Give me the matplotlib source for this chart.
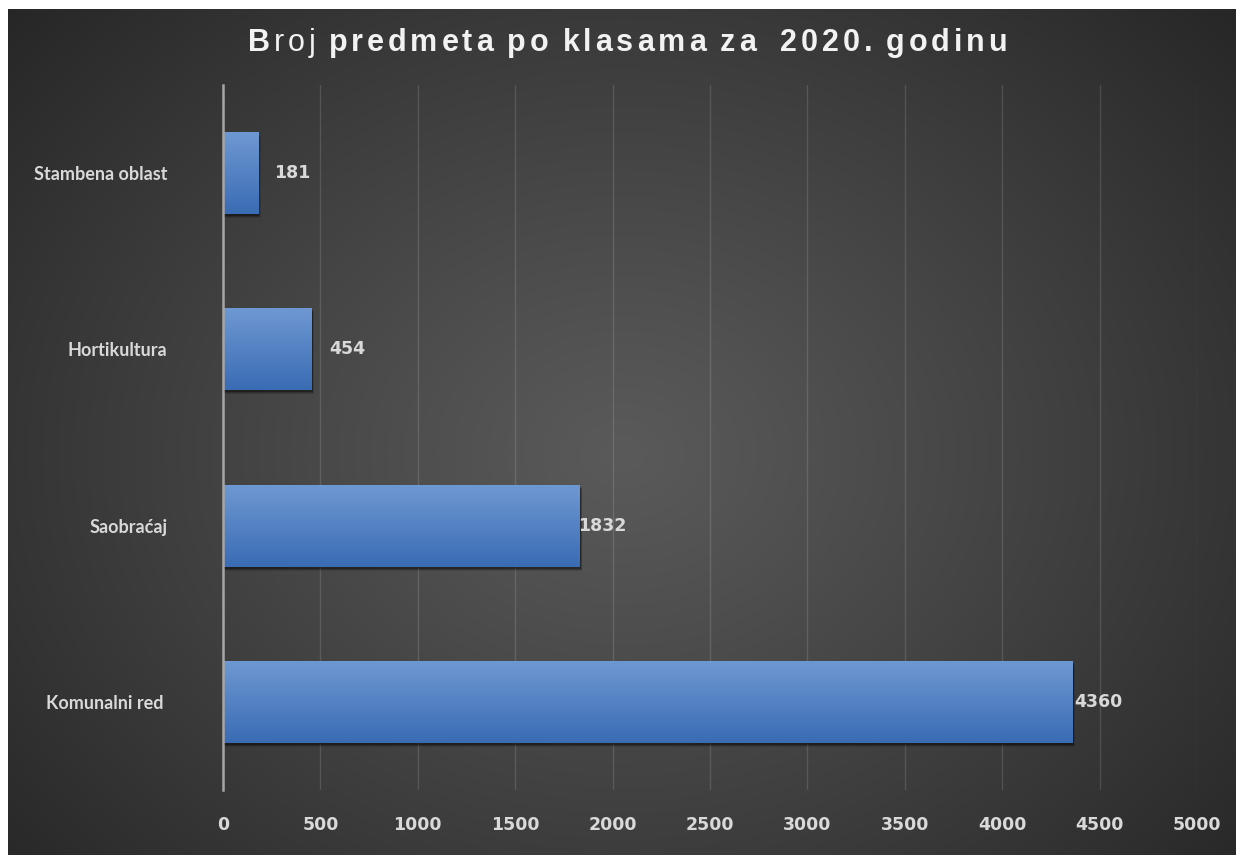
import numpy as np
import matplotlib
matplotlib.use("Agg")
import matplotlib.pyplot as plt
from matplotlib.patches import Rectangle

# data
categories = ["Stambena oblast", "Hortikultura", "Saobraćaj", "Komunalni red "]
values = [181, 454, 1832, 4360]
xticks = [0, 500, 1000, 1500, 2000, 2500, 3000, 3500, 4000, 4500, 5000]
title_parts = [("B", "bold"), ("roj ", "normal"), ("predmeta po klasama za  2020. godinu", "bold")]

label_pad = [16, 18, -2, 2]  # px from bar end, as placed in the original

W, H = 1236, 855
fig = plt.figure(figsize=(W / 100, H / 100), dpi=100, facecolor="white")

# dark radial background, white strip on top/left
bg = fig.add_axes([8 / W, 0, 1 - 8 / W, 1 - 9 / H])
bg.set_axis_off()
yy, xx = np.mgrid[0:400, 0:600]
r = np.sqrt(((xx - 300) / 420.0) ** 2 + ((yy - 210) / 330.0) ** 2)
r = np.clip(r, 0, 1)
c0 = np.array([0x5a, 0x5a, 0x5a]) / 255.0
c1 = np.array([0x24, 0x24, 0x24]) / 255.0
img = c0[None, None, :] * (1 - r[..., None] ** 1.1) + c1[None, None, :] * r[..., None] ** 1.1
bg.imshow(img, aspect="auto", extent=(0, 1, 0, 1), interpolation="bilinear")
bg.set_xlim(0, 1)
bg.set_ylim(0, 1)

ax = fig.add_axes([223 / W, 1 - 790 / H, (1197 - 223) / W, (790 - 85) / H])
ax.set_facecolor("none")
ax.set_xlim(0, 5000)
ax.set_ylim(3.5, -0.5)

bar_h = 0.465
top_col = np.array([110, 152, 210]) / 255.0
bot_col = np.array([58, 108, 180]) / 255.0
grad = np.linspace(0, 1, 64)[:, None, None]
grad_img = top_col[None, None, :] * (1 - grad) + bot_col[None, None, :] * grad

px = 5000 / (1197 - 223)           # data units per pixel in x
py = 4.0 / (790 - 85)              # data units per pixel in y

for i, v in enumerate(values):
    # soft shadow
    for k, a in [(4, 0.12), (3, 0.2), (2, 0.3)]:
        ax.add_patch(Rectangle((0, i - bar_h / 2 + k * py), v + k * px * 0.6, bar_h,
                               facecolor="black", alpha=a, linewidth=0, zorder=2))
    rect = Rectangle((0, i - bar_h / 2), v, bar_h, facecolor="none", linewidth=0, zorder=3)
    ax.add_patch(rect)
    im = ax.imshow(grad_img, extent=(0, v, i + bar_h / 2, i - bar_h / 2),
                   origin="upper", aspect="auto", zorder=3, interpolation="bilinear")
    im.set_clip_path(rect)
    ax.annotate(str(v), xy=(v, i), xytext=(label_pad[i] * 0.72, 0), textcoords="offset points",
                ha="left", va="center", fontsize=12.5, fontweight="bold", family="DejaVu Sans",
                color="#d9d9d9", zorder=5)

ax.set_xlim(0, 5000)
ax.set_ylim(3.5, -0.5)
ax.set_xticks(xticks)
ax.set_xticklabels([str(t) for t in xticks], fontsize=12.5, fontweight="bold",
                   family="DejaVu Sans", color="#d9d9d9")
ax.set_yticks(range(len(categories)))
ax.set_yticklabels(categories, fontsize=13, fontweight="bold", family="Lato", color="#d9d9d9")
ax.grid(axis="x", color="white", alpha=0.13, linewidth=1)
ax.set_axisbelow(True)
for s in ["top", "right", "bottom"]:
    ax.spines[s].set_visible(False)
ax.spines["left"].set_color("#a6a6a6")
ax.spines["left"].set_linewidth(1.8)
ax.spines["left"].set_zorder(6)
ax.tick_params(axis="x", length=0, pad=19)
ax.tick_params(axis="y", length=0, pad=40)

# title with letter spacing, drawn char by char
fig.canvas.draw()
ren = fig.canvas.get_renderer()
chars = [(c, w) for part, w in title_parts for c in part]
x0, x1, ybase = 248, 1007, H - 51
fs = 22
widths = []
for c, w in chars:
    t = fig.text(0, 0, c if c != " " else "n", fontsize=fs, fontweight=w, family="Liberation Sans")
    bb = t.get_window_extent(ren)
    widths.append(bb.width * (0.35 if c == " " else 1))
    t.remove()
track = (x1 - x0 - sum(widths)) / (len(chars) - 1)
x = x0
for (c, w), wd in zip(chars, widths):
    if c != " ":
        fig.text(x / W, ybase / H, c, fontsize=fs, fontweight=w, family="Liberation Sans",
                 color="#f2f2f2", ha="left", va="baseline")
    x += wd + track

fig.savefig("out.png", dpi=100, facecolor="white")
